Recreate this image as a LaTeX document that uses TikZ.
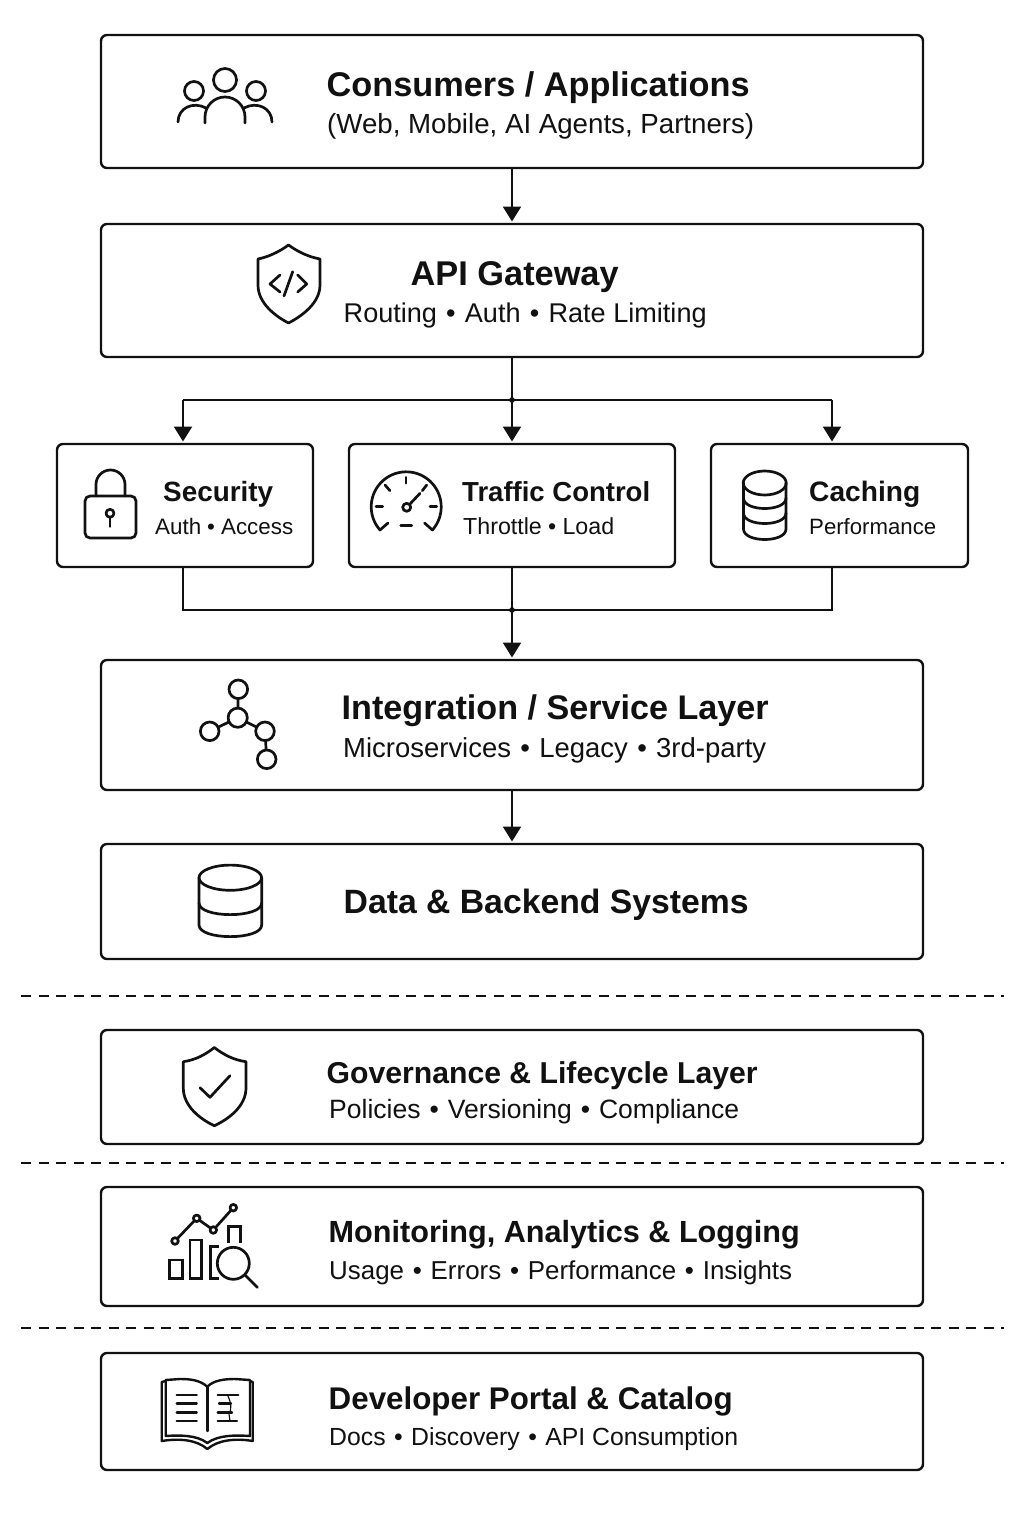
\documentclass[tikz,border=0pt]{standalone}
\usepackage{fontspec}
\usepackage{graphicx}
\setmainfont{Liberation Sans}
\usetikzlibrary{arrows.meta,positioning,calc}
\definecolor{ink}{HTML}{111111}
\newcommand{\fitw}[2]{\resizebox{#1pt}{!}{#2}}
\newcommand{\bul}{\hspace{.34em}•\hspace{.34em}}
\newcommand{\bulb}{\hspace{.27em}•\hspace{.27em}}
\tikzset{
  box/.style={draw=ink,line width=2.4pt,rounded corners=6pt,fill=white,inner sep=0pt,outer sep=0pt,anchor=north west},
  ttl/.style={anchor=base west,inner sep=0pt,text=ink,font=\bfseries\fontsize{30pt}{32pt}\selectfont},
  sub/.style={anchor=base west,inner sep=0pt,text=ink,font=\fontsize{24pt}{26pt}\selectfont},
  conn/.style={draw=ink,line width=2.5pt},
  arr/.style={conn,-{Triangle[width=18pt,length=15pt]},shorten >=2.5pt},
  sep/.style={draw=ink,line width=1.4pt,dash pattern=on 10pt off 7.5pt},
  ico/.style={draw=ink,line width=2.7pt,line cap=round,line join=round},
  ico2/.style={draw=ink,line width=2.4pt,line cap=round,line join=round}
}
\newcommand{\bx}[5]{\node[box,minimum width=#4 pt-#2 pt,minimum height=#5 pt-#3 pt] (#1) at (#2,#3) {};}
\begin{document}
\begin{tikzpicture}[x=1pt,y=-1pt]
\useasboundingbox[fill=white] (0,0) rectangle (1024,1536);
% boxes
\bx{consumers}{101}{35}{923}{168}
\bx{gateway}{101}{224}{923}{357}
\bx{security}{57}{444}{313}{567}
\bx{traffic}{349}{444}{675}{567}
\bx{caching}{711}{444}{968}{567}
\bx{integration}{101}{660}{923}{790}
\bx{data}{101}{844}{923}{959}
\bx{governance}{101}{1030}{923}{1144}
\bx{monitoring}{101}{1187}{923}{1306}
\bx{portal}{101}{1353}{923}{1470}
% junctions
\coordinate (ja) at (512,400);
\coordinate (jb) at (512,610);
\coordinate (jl) at (183,400);
\coordinate (jr) at (832,400);
\coordinate (kl) at (183,610);
\coordinate (kr) at (832,610);
% connectors
\draw[arr] (consumers.south) -- (gateway.north);
\draw[conn] (gateway.south) -- (ja);
\draw[conn] (jl) -- (jr);
\draw[arr] (ja) -- (ja |- traffic.north);
\draw[arr] (jl) -- (jl |- security.north);
\draw[arr] (jr) -- (jr |- caching.north);
\fill[ink] (ja) circle[radius=2.8pt];
\draw[conn] (kl |- security.south) -- (kl) -- (kr) -- (kr |- caching.south);
\draw[conn] (traffic.south -| jb) -- (jb);
\draw[arr] (jb) -- (integration.north);
\fill[ink] (jb) circle[radius=2.8pt];
\draw[arr] (integration.south) -- (data.north);
% dashed separators
\coordinate (sa0) at (21,996); \coordinate (sa1) at (1004,996);
\coordinate (sb0) at (21,1163); \coordinate (sb1) at (1004,1163);
\coordinate (sc0) at (21,1328); \coordinate (sc1) at (1004,1328);
\draw[sep] (sa0) -- (sa1);
\draw[sep] (sb0) -- (sb1);
\draw[sep] (sc0) -- (sc1);
% texts
\node[ttl] (t1) at (326.5,96.5) {\fitw{423}{Consumers / Applications}};
\node[sub] (s1) at (327,133) {\fitw{427}{(Web, Mobile, AI Agents, Partners)}};
\node[ttl] (t2) at (410.5,285) {\fitw{208}{API Gateway}};
\node[sub] (s2) at (343.5,322) {\fitw{363}{Routing\bul Auth\bul Rate Limiting}};
\node[ttl] (t3) at (163,501) {\fitw{110}{Security}};
\node[sub] (s3) at (155,534) {\fitw{138}{Auth\bulb Access}};
\node[ttl] (t4) at (462,501) {\fitw{188}{Traffic Control}};
\node[sub] (s4) at (463,534) {\fitw{151}{Throttle\bulb Load}};
\node[ttl] (t5) at (809,501) {\fitw{111}{Caching}};
\node[sub] (s5) at (809,534) {\fitw{127}{Performance}};
\node[ttl] (t6) at (341.5,719) {\fitw{427}{Integration / Service Layer}};
\node[sub] (s6) at (343,757) {\fitw{423}{Microservices\bul Legacy\bul 3rd-party}};
\node[ttl] (t7) at (343.5,913.5) {\fitw{405}{Data \& Backend Systems}};
\node[ttl] (t8) at (326.5,1083) {\fitw{431}{Governance \& Lifecycle Layer}};
\node[sub] (s8) at (329,1118.5) {\fitw{410}{Policies\bul Versioning\bul Compliance}};
\node[ttl] (t9) at (328.5,1242) {\fitw{471}{Monitoring, Analytics \& Logging}};
\node[sub] (s9) at (329,1279) {\fitw{463}{Usage\bul Errors\bul Performance\bul Insights}};
\node[ttl] (t10) at (328.5,1409) {\fitw{404}{Developer Portal \& Catalog}};
\node[sub] (s10) at (329,1445) {\fitw{409}{Docs\bul Discovery\bul API Consumption}};
% people icon
\draw[ico] (225,80) circle[radius=11.5pt];
\draw[ico] (194,91) circle[radius=9.5pt];
\draw[ico] (256,91) circle[radius=9.5pt];
\draw[ico] (205,123) -- (205,117) arc[start angle=180,end angle=0,radius=20pt] -- (245,123);
\draw[ico] (178,122) .. controls (178,108) and (193,101) .. (206,108);
\draw[ico] (272,122) .. controls (272,108) and (257,101) .. (244,108);
% gateway shield
\draw[ico] (288.5,245) .. controls (279,252) and (268,257) .. (258,259) -- (258,285) .. controls (258,303) and (275,316) .. (288.5,323) .. controls (302,316) and (320,303) .. (320,285) -- (320,259) .. controls (309,257) and (298,252) .. (288.5,245) -- cycle;
\draw[ico] (280,275) -- (270,284) -- (280,292);
\draw[ico] (297.7,275) -- (306.7,284) -- (297.7,292);
\draw[ico] (292.7,271.7) -- (284,296);
% lock
\draw[ico,rounded corners=5pt] (85,496) rectangle (136,538);
\draw[ico] (96,496) -- (96,484.5) arc[start angle=180,end angle=0,radius=14.5pt] -- (125,496);
\draw[ico] (110,513.3) circle[radius=4pt];
\draw[ico] (110,517.3) -- (110,526.5);
% gauge
\draw[ico] (388,523) -- (380,530) arc[start angle=221.5,end angle=-41.5,radius=35pt] -- (424.5,523);
\draw[ico] (406,477.3) -- (406,483.3);
\draw[ico] (385,485) -- (390,490.7);
\draw[ico] (426.7,485) -- (422.3,490.7);
\draw[ico] (376,506.7) -- (382.7,506.7);
\draw[ico] (430,506.7) -- (436.7,506.7);
\draw[ico] (400.7,525.3) -- (411.7,525.3);
\draw[ico] (406.7,507.3) circle[radius=4pt];
\draw[ico] (409.7,504.3) -- (420,493.3);
% caching database
\draw[ico] (764.7,483) ellipse[x radius=21.5pt,y radius=12pt];
\draw[ico] (743.5,483) -- (743.5,529) .. controls (743.5,543) and (786,543) .. (786,529) -- (786,483);
\draw[ico] (743.5,498) .. controls (743.5,512) and (786,512) .. (786,498);
\draw[ico] (743.5,513) .. controls (743.5,527) and (786,527) .. (786,513);
% network
\draw[ico] (238.3,689.3) -- (237.7,717.7) -- (209.7,731.3);
\draw[ico] (237.7,717.7) -- (265,731.3) -- (266.7,759.3);
\draw[ico,fill=white] (238.3,689.3) circle[radius=9.3pt];
\draw[ico,fill=white] (237.7,717.7) circle[radius=9.6pt];
\draw[ico,fill=white] (209.7,731.3) circle[radius=9.3pt];
\draw[ico,fill=white] (265,731.3) circle[radius=9.3pt];
\draw[ico,fill=white] (266.7,759.3) circle[radius=9.3pt];
% data database
\draw[ico] (230.3,877.7) ellipse[x radius=31.3pt,y radius=12.6pt];
\draw[ico] (199,877.7) -- (199,925) .. controls (199,940.5) and (261.7,940.5) .. (261.7,925) -- (261.7,877.7);
\draw[ico] (199,903) .. controls (199,918.5) and (261.7,918.5) .. (261.7,903);
% governance shield
\draw[ico] (214.3,1047.5) .. controls (205,1055) and (195,1060) .. (183.3,1061.7) -- (183.3,1088) .. controls (183.3,1106) and (200,1119) .. (214.3,1125.7) .. controls (229,1119) and (246,1106) .. (246,1088) -- (246,1061.7) .. controls (234,1060) and (224,1055) .. (214.3,1047.5) -- cycle;
\draw[ico] (200,1087.7) -- (210,1097.3) -- (230,1075.7);
% monitoring
\draw[ico] (175,1241) -- (196.7,1218.3) -- (213.3,1230) -- (233.3,1207.7);
\draw[ico,fill=white] (175,1241) circle[radius=3.3pt];
\draw[ico,fill=white] (196.7,1218.3) circle[radius=3.3pt];
\draw[ico,fill=white] (213.3,1230) circle[radius=3.3pt];
\draw[ico,fill=white] (233.3,1207.7) circle[radius=3.3pt];
\draw[ico,line cap=butt,line join=miter] (169.3,1260) rectangle (182.3,1278.3);
\draw[ico,line cap=butt,line join=miter] (190,1240) rectangle (201.7,1278.3);
\draw[ico,line cap=butt,line join=miter] (219.3,1246.7) -- (210.7,1246.7) -- (210.7,1278.3) -- (219.3,1278.3);
\draw[ico,line cap=butt,line join=miter] (228.3,1243) -- (228.3,1226.7) -- (240.7,1226.7) -- (240.7,1243);
\draw[ico] (233.3,1263.3) circle[radius=16pt];
\draw[ico] (245,1275) -- (257.3,1287.3);
% book
\draw[ico2] (207.3,1386.7) .. controls (200,1380) and (190,1379) .. (180,1379) -- (165.7,1380) -- (165.7,1436) .. controls (180,1435) and (197,1435) .. (207.3,1443) .. controls (218,1435) and (235,1435) .. (250,1436) -- (250,1380) -- (235,1379) .. controls (225,1379) and (214,1380) .. (207.3,1386.7) -- cycle;
\draw[ico2] (165.7,1381) -- (161.7,1382) -- (161.7,1441) .. controls (180,1438) and (197,1440) .. (207.3,1449) .. controls (218,1440) and (235,1438) .. (252.7,1441) -- (252.7,1382) -- (250,1381);
\draw[ico2] (207.3,1386.7) -- (207.3,1431);
\draw[ico2] (176.7,1395) -- (196.7,1395);
\draw[ico2] (176.7,1403.3) -- (196.7,1403.3);
\draw[ico2] (176.7,1412.3) -- (196.7,1412.3);
\draw[ico2] (176.7,1421) -- (196.7,1421);
\draw[ico2] (217.7,1395) -- (238.3,1395);
\draw[ico2] (219,1403.3) -- (231,1403.3);
\draw[ico2] (217.7,1412.3) -- (232,1412.3);
\draw[ico2] (217.7,1421) -- (237,1421);
\draw[draw=ink,line width=1.2pt] (228,1396) .. controls (231,1402) and (232,1410) .. (229,1414) -- (230,1421);
\end{tikzpicture}
\end{document}
